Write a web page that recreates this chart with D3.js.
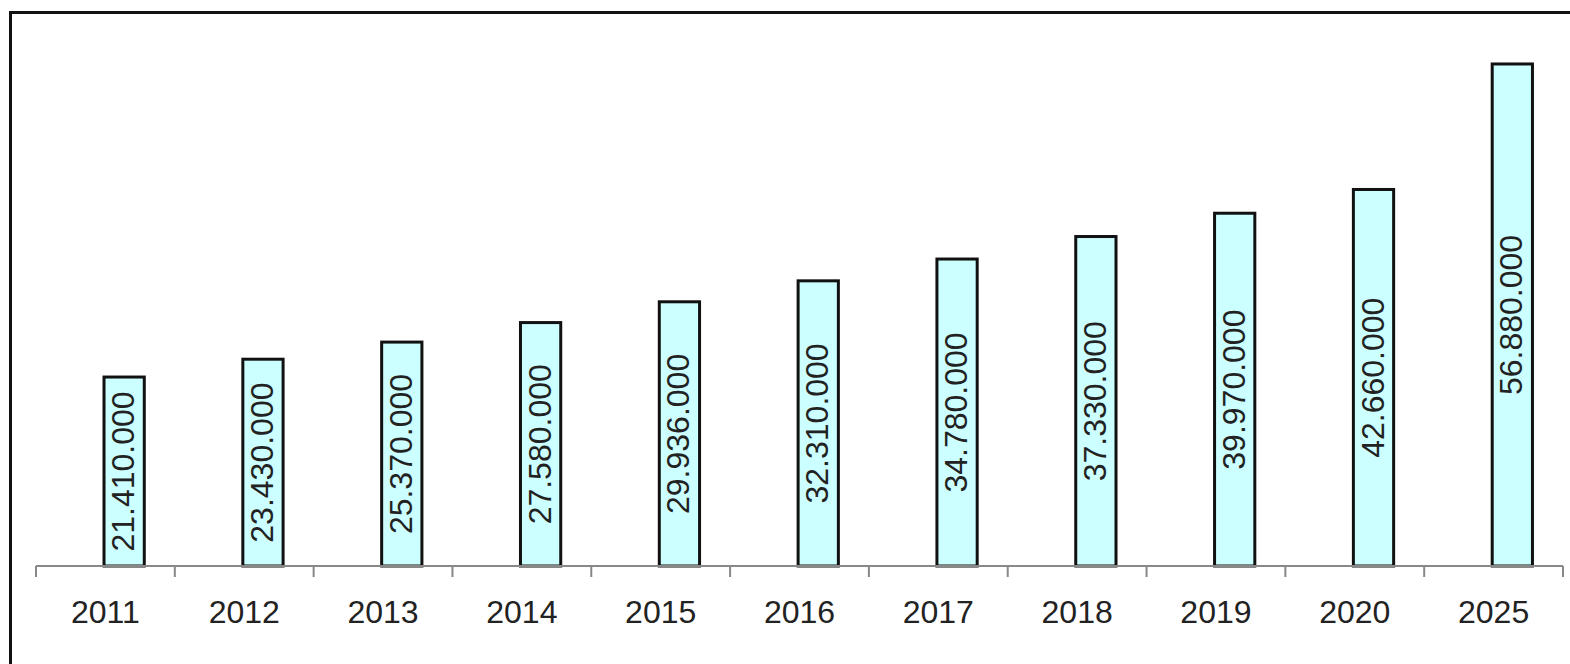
<!DOCTYPE html>
<html>
<head>
<meta charset="utf-8">
<script src="https://cdn.jsdelivr.net/npm/d3@7"></script>
<style>
  body { margin: 0; background: #fff; overflow: hidden; }
  text { font-family: "Liberation Sans", Arial, sans-serif; }
</style>
</head>
<body>
<script>
// chart data
const years = ['2011', '2012', '2013', '2014', '2015', '2016', '2017', '2018', '2019', '2020', '2025']
const values = [21.41, 23.43, 25.37, 27.58, 29.936, 32.31, 34.78, 37.33, 39.97, 42.66, 56.88]
const valueLabels = ['21.410.000', '23.430.000', '25.370.000', '27.580.000', '29.936.000', '32.310.000',
  '34.780.000', '37.330.000', '39.970.000', '42.660.000', '56.880.000']

const width = 1570
const height = 664
const left = 36
const right = 1563
const baseline = 566

const svg = d3.select('body')
  .append('svg')
  .attr('width', width)
  .attr('height', height)

// outer frame (right and bottom edges run off the picture)
svg.append('rect')
  .attr('x', 10.5)
  .attr('y', 12.5)
  .attr('width', 1600)
  .attr('height', 700)
  .attr('fill', 'none')
  .attr('stroke', '#111')
  .attr('stroke-width', 3)

const xScale = d3.scaleBand()
  .domain(years)
  .range([left, right])

const yScale = d3.scaleLinear()
  .domain([0, 60])
  .range([baseline, baseline - 60 * 8.826])

// bars sit in the right half of each band
const barOffset = xScale.bandwidth() * 0.49
const barWidth = xScale.bandwidth() * 0.29

svg.selectAll('rect.bar')
  .data(values)
  .enter()
  .append('rect')
  .attr('class', 'bar')
  .attr('x', (d, i) => xScale(years[i]) + barOffset)
  .attr('y', (d) => yScale(d))
  .attr('width', barWidth)
  .attr('height', (d) => baseline - yScale(d))
  .attr('fill', '#ccffff')
  .attr('stroke', '#111')
  .attr('stroke-width', 3)

svg.selectAll('text.val')
  .data(values)
  .enter()
  .append('text')
  .attr('class', 'val')
  .attr('transform', (d, i) => {
    const cx = xScale(years[i]) + barOffset + barWidth / 2
    const cy = (yScale(d) + baseline) / 2
    return 'translate(' + (cx + 10) + ',' + cy + ') rotate(-90)'
  })
  .attr('text-anchor', 'middle')
  .attr('font-size', '32px')
  .attr('fill', '#222')
  .text((d, i) => valueLabels[i])

// x axis
const xAxis = d3.axisBottom(xScale)
  .tickSize(0)
  .tickPadding(34)

const gx = svg.append('g')
  .attr('transform', 'translate(0,' + baseline + ')')
  .call(xAxis)

gx.select('.domain')
  .attr('stroke', '#888')
  .attr('stroke-width', 2)
  .attr('d', 'M' + left + ',0H' + right)

gx.selectAll('text')
  .attr('font-size', '32px')
  .attr('fill', '#222')
  .attr('font-family', '"Liberation Sans", Arial, sans-serif')

// tick marks between categories
const edges = years.map((y) => xScale(y)).concat([right])
gx.selectAll('line.sep')
  .data(edges)
  .enter()
  .append('line')
  .attr('class', 'sep')
  .attr('x1', (d) => d)
  .attr('x2', (d) => d)
  .attr('y1', 0)
  .attr('y2', 11)
  .attr('stroke', '#888')
  .attr('stroke-width', 2)
</script>
</body>
</html>
